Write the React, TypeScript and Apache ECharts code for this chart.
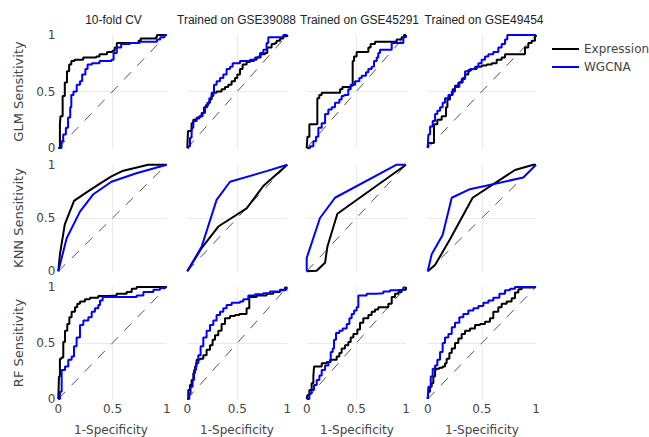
import React, { useEffect, useRef } from 'react';
import * as echarts from 'echarts';

// ---------- labels ----------
const colTitles = ['10-fold CV', 'Trained on GSE39088', 'Trained on GSE45291', 'Trained on GSE49454'];
const rowTitles = ['GLM Sensitivity', 'KNN Sensitivity', 'RF Sensitivity'];
const seriesNames = ['Expression', 'WGCNA'];
const xTitle = '1-Specificity';
const tickInterval = 0.5;
const diagonal = [[0, 0], [1, 1]];

// ---------- GLM ----------
const glmExprCV = [[0,0],[0.015,0.21],[0.02,0.28],[0.04,0.46],[0.06,0.58],[0.08,0.68],[0.1,0.74],[0.12,0.77],[0.15,0.78],[0.23,0.8],[0.35,0.81],[0.38,0.83],[0.45,0.85],[0.5,0.86],[0.52,0.89],[0.54,0.93],[0.74,0.95],[0.76,0.97],[0.9,0.98],[0.91,1],[1,1]];
const glmWgcnaCV = [[0,0],[0.03,0.06],[0.045,0.12],[0.07,0.18],[0.09,0.27],[0.11,0.36],[0.12,0.47],[0.14,0.5],[0.17,0.56],[0.2,0.59],[0.22,0.65],[0.25,0.7],[0.27,0.74],[0.31,0.75],[0.38,0.77],[0.49,0.78],[0.51,0.84],[0.54,0.89],[0.58,0.92],[0.66,0.93],[0.75,0.94],[0.91,0.96],[0.94,0.98],[0.98,1],[1,1]];
const glmExpr39088 = [[0,0],[0.007,0.15],[0.043,0.22],[0.06,0.25],[0.093,0.26],[0.12,0.28],[0.143,0.31],[0.167,0.36],[0.187,0.38],[0.21,0.4],[0.227,0.43],[0.243,0.46],[0.26,0.49],[0.293,0.5],[0.343,0.52],[0.377,0.54],[0.41,0.56],[0.443,0.59],[0.477,0.62],[0.5,0.65],[0.527,0.7],[0.553,0.74],[0.593,0.76],[0.627,0.77],[0.667,0.78],[0.693,0.8],[0.733,0.83],[0.777,0.84],[0.8,0.89],[0.843,0.92],[0.877,0.93],[0.893,0.95],[0.927,0.97],[0.96,0.99],[1,1]];
const glmWgcna39088 = [[0,0],[0.01,0.015],[0.027,0.09],[0.043,0.18],[0.06,0.24],[0.093,0.27],[0.127,0.28],[0.153,0.31],[0.177,0.36],[0.2,0.4],[0.22,0.44],[0.243,0.49],[0.267,0.56],[0.293,0.59],[0.327,0.62],[0.36,0.65],[0.393,0.7],[0.427,0.72],[0.453,0.75],[0.527,0.77],[0.627,0.78],[0.677,0.8],[0.71,0.81],[0.727,0.84],[0.76,0.87],[0.793,0.93],[0.81,0.98],[0.927,0.98],[0.96,1],[1,1]];
const glmExpr45291 = [[0,0],[0.007,0.1],[0.027,0.21],[0.107,0.44],[0.127,0.47],[0.151,0.49],[0.336,0.52],[0.36,0.54],[0.443,0.55],[0.463,0.77],[0.477,0.81],[0.503,0.85],[0.621,0.89],[0.644,0.92],[0.688,0.94],[0.906,0.96],[0.956,0.98],[0.98,1],[1,1]];
const glmWgcna45291 = [[0,0],[0.034,0.015],[0.067,0.06],[0.094,0.1],[0.117,0.18],[0.151,0.22],[0.185,0.3],[0.218,0.34],[0.252,0.36],[0.285,0.4],[0.329,0.43],[0.352,0.46],[0.376,0.47],[0.419,0.52],[0.443,0.56],[0.487,0.59],[0.53,0.62],[0.554,0.64],[0.597,0.67],[0.621,0.7],[0.654,0.72],[0.678,0.77],[0.705,0.8],[0.721,0.84],[0.738,0.87],[0.856,0.93],[0.973,0.98],[1,1]];
const glmExpr49454 = [[0,0],[0.006,0.045],[0.058,0.21],[0.089,0.25],[0.129,0.28],[0.169,0.36],[0.182,0.43],[0.206,0.47],[0.231,0.52],[0.252,0.55],[0.283,0.58],[0.314,0.61],[0.345,0.65],[0.375,0.69],[0.406,0.7],[0.452,0.72],[0.498,0.73],[0.545,0.74],[0.591,0.75],[0.637,0.78],[0.683,0.8],[0.714,0.83],[0.898,0.89],[0.929,0.93],[0.96,0.95],[0.991,0.99],[1,1]];
const glmWgcna49454 = [[0,0],[0.006,0.12],[0.022,0.19],[0.046,0.24],[0.068,0.3],[0.089,0.33],[0.114,0.36],[0.138,0.4],[0.16,0.44],[0.191,0.47],[0.222,0.5],[0.252,0.54],[0.292,0.58],[0.323,0.62],[0.345,0.68],[0.391,0.7],[0.437,0.72],[0.468,0.75],[0.498,0.78],[0.529,0.81],[0.56,0.83],[0.606,0.85],[0.652,0.89],[0.683,0.92],[0.714,0.96],[0.735,1],[1,1]];

// ---------- KNN ----------
const knnExprCV = [[0,0],[0.015,0.16],[0.06,0.44],[0.145,0.66],[0.26,0.74],[0.38,0.82],[0.49,0.89],[0.59,0.94],[0.83,1],[1,1]];
const knnWgcnaCV = [[0,0],[0.077,0.31],[0.2,0.56],[0.32,0.72],[0.49,0.84],[0.72,0.92],[1,1]];
const knnExpr39088 = [[0,0],[0.145,0.22],[0.31,0.42],[0.443,0.5],[0.593,0.59],[0.76,0.8],[1,1]];
const knnWgcna39088 = [[0,0],[0.143,0.23],[0.293,0.67],[0.427,0.84],[0.793,0.94],[1,1]];
const knnExpr45291 = [[0,0],[0.1,0.006],[0.185,0.08],[0.208,0.23],[0.309,0.54],[1,1]];
const knnWgcna45291 = [[0,0],[0,0.125],[0.134,0.5],[0.285,0.69],[0.906,1],[1,1]];
const knnExpr49454 = [[0,0],[0.068,0.06],[0.206,0.3],[0.415,0.69],[0.806,0.95],[0.975,1],[1,1]];
const knnWgcna49454 = [[0,0],[0.037,0.16],[0.138,0.34],[0.222,0.69],[0.39,0.77],[0.883,0.88],[1,1]];

// ---------- RF ----------
const rfExprCV = [[0,0],[0.006,0.2],[0.015,0.36],[0.03,0.37],[0.046,0.51],[0.062,0.61],[0.083,0.67],[0.102,0.73],[0.123,0.78],[0.154,0.82],[0.175,0.85],[0.2,0.87],[0.246,0.89],[0.292,0.905],[0.369,0.92],[0.462,0.925],[0.538,0.94],[0.631,0.955],[0.677,0.985],[0.723,1],[1,1]];
const rfWgcnaCV = [[0,0],[0.015,0.065],[0.031,0.26],[0.062,0.29],[0.092,0.35],[0.123,0.38],[0.145,0.47],[0.169,0.55],[0.2,0.66],[0.231,0.7],[0.277,0.73],[0.308,0.78],[0.338,0.81],[0.369,0.84],[0.385,0.88],[0.409,0.91],[0.692,0.91],[0.723,0.925],[0.785,0.955],[0.877,0.975],[0.938,0.99],[0.985,1],[1,1]];
const rfExpr39088 = [[0,0],[0.01,0.08],[0.027,0.125],[0.043,0.17],[0.06,0.23],[0.077,0.29],[0.093,0.35],[0.127,0.36],[0.16,0.39],[0.193,0.44],[0.227,0.48],[0.253,0.53],[0.277,0.57],[0.31,0.61],[0.343,0.67],[0.377,0.72],[0.427,0.74],[0.477,0.75],[0.52,0.76],[0.593,0.81],[0.62,0.91],[0.693,0.925],[0.793,0.94],[0.86,0.955],[0.927,0.97],[0.977,0.995],[1,1]];
const rfWgcna39088 = [[0,0],[0.02,0.05],[0.033,0.11],[0.053,0.17],[0.067,0.26],[0.087,0.32],[0.11,0.39],[0.133,0.47],[0.16,0.55],[0.193,0.61],[0.227,0.66],[0.26,0.7],[0.293,0.75],[0.327,0.78],[0.36,0.81],[0.393,0.84],[0.443,0.86],[0.527,0.87],[0.56,0.89],[0.61,0.925],[0.677,0.935],[0.76,0.945],[0.827,0.96],[0.927,0.975],[0.993,1],[1,1]];
const rfExpr45291 = [[0,0],[0.007,0.035],[0.027,0.08],[0.05,0.14],[0.067,0.2],[0.074,0.29],[0.151,0.32],[0.201,0.33],[0.235,0.35],[0.302,0.38],[0.329,0.41],[0.352,0.45],[0.386,0.48],[0.419,0.51],[0.443,0.55],[0.47,0.58],[0.51,0.62],[0.537,0.68],[0.57,0.72],[0.621,0.75],[0.654,0.78],[0.688,0.8],[0.721,0.82],[0.822,0.85],[0.856,0.91],[0.889,0.94],[0.923,0.955],[0.956,0.975],[1,1]];
const rfWgcna45291 = [[0,0],[0.027,0.05],[0.05,0.08],[0.074,0.125],[0.101,0.17],[0.128,0.21],[0.151,0.26],[0.185,0.3],[0.218,0.33],[0.242,0.42],[0.262,0.45],[0.275,0.53],[0.295,0.59],[0.329,0.61],[0.362,0.63],[0.403,0.67],[0.43,0.72],[0.453,0.76],[0.477,0.79],[0.503,0.82],[0.52,0.925],[0.604,0.94],[0.705,0.945],[0.772,0.96],[0.839,0.97],[0.906,0.975],[0.973,0.995],[1,1]];
const rfExpr49454 = [[0,0],[0.006,0.065],[0.022,0.11],[0.037,0.14],[0.052,0.2],[0.068,0.26],[0.077,0.27],[0.108,0.28],[0.138,0.29],[0.16,0.32],[0.175,0.36],[0.2,0.41],[0.222,0.45],[0.252,0.5],[0.283,0.54],[0.314,0.58],[0.345,0.61],[0.391,0.63],[0.437,0.66],[0.483,0.67],[0.529,0.69],[0.575,0.72],[0.606,0.78],[0.652,0.82],[0.683,0.85],[0.729,0.87],[0.775,0.9],[0.806,0.95],[0.837,0.98],[0.868,0.995],[0.975,1],[1,1]];
const rfWgcna49454 = [[0,0],[0.006,0.11],[0.028,0.2],[0.046,0.27],[0.068,0.3],[0.089,0.35],[0.114,0.42],[0.138,0.5],[0.16,0.55],[0.191,0.58],[0.222,0.64],[0.252,0.68],[0.292,0.73],[0.329,0.76],[0.375,0.79],[0.422,0.81],[0.468,0.83],[0.514,0.86],[0.56,0.88],[0.606,0.905],[0.662,0.94],[0.714,0.97],[0.76,0.985],[0.806,1],[1,1]];

const expressionData = [
  [glmExprCV, glmExpr39088, glmExpr45291, glmExpr49454],
  [knnExprCV, knnExpr39088, knnExpr45291, knnExpr49454],
  [rfExprCV, rfExpr39088, rfExpr45291, rfExpr49454],
];
const wgcnaData = [
  [glmWgcnaCV, glmWgcna39088, glmWgcna45291, glmWgcna49454],
  [knnWgcnaCV, knnWgcna39088, knnWgcna45291, knnWgcna49454],
  [rfWgcnaCV, rfWgcna39088, rfWgcna45291, rfWgcna49454],
];
const rowIsStep = [true, false, true];

// ---------- layout ----------
const COLS = [
  { left: 58.3, width: 108.4 },
  { left: 187.3, width: 100 },
  { left: 306.7, width: 99.3 },
  { left: 427.7, width: 108.3 },
];
const ROWS = [
  { top: 35, height: 113 },
  { top: 164.7, height: 106.6 },
  { top: 287, height: 112 },
];
const TITLE_X = [113.5, 236.5, 359.5, 484];
const XTITLE_X = [111, 237, 357, 482];
const COLORS = ['#000000', '#0000ff'];
const AXIS_FONT = '"DejaVu Sans", Verdana, sans-serif';
const TITLE_FONT = '"Liberation Sans", Arial, sans-serif';

function buildOption() {
  const grid: any[] = [];
  const xAxis: any[] = [];
  const yAxis: any[] = [];
  const series: any[] = [];
  const split = {
    show: true,
    lineStyle: { color: ['rgba(0,0,0,0)', '#ebebeb', 'rgba(0,0,0,0)'], width: 1 },
  };
  for (let r = 0; r < 3; r++) {
    for (let c = 0; c < 4; c++) {
      const idx = r * 4 + c;
      grid.push({ left: COLS[c].left, top: ROWS[r].top, width: COLS[c].width, height: ROWS[r].height });
      xAxis.push({
        type: 'value', gridIndex: idx, min: 0, max: 1, interval: tickInterval,
        axisLine: { show: false }, axisTick: { show: false },
        axisLabel: { show: r === 2, margin: 4, color: '#444', fontSize: 12, fontFamily: AXIS_FONT, showMinLabel: true, showMaxLabel: true },
        splitLine: split,
      });
      yAxis.push({
        type: 'value', gridIndex: idx, min: 0, max: 1, interval: tickInterval,
        axisLine: { show: false }, axisTick: { show: false },
        axisLabel: { show: c === 0, margin: 3, color: '#444', fontSize: 12, fontFamily: AXIS_FONT, showMinLabel: true, showMaxLabel: true },
        splitLine: split,
      });
      series.push({
        type: 'line', name: 'diag', xAxisIndex: idx, yAxisIndex: idx, data: diagonal,
        symbol: 'none', silent: true, z: 1,
        lineStyle: { color: '#555', width: 1, type: [10, 9] },
      });
      [expressionData, wgcnaData].forEach((ds, k) => {
        series.push({
          type: 'line', name: seriesNames[k], xAxisIndex: idx, yAxisIndex: idx,
          data: ds[r][c], step: rowIsStep[r] ? 'end' : false,
          symbol: 'none', clip: false, z: 2 + k,
          lineStyle: { color: COLORS[k], width: 2 },
          itemStyle: { color: COLORS[k] },
        });
      });
    }
  }

  const graphic: any[] = [];
  colTitles.forEach((t, c) => {
    graphic.push({
      type: 'text', x: TITLE_X[c], y: 20,
      style: { text: t, fill: '#222', font: `12px ${TITLE_FONT}`, align: 'center', verticalAlign: 'middle', textAlign: 'center', textVerticalAlign: 'middle' },
    });
    graphic.push({
      type: 'text', x: XTITLE_X[c], y: 430,
      style: { text: xTitle, fill: '#444', font: `12px ${AXIS_FONT}`, align: 'center', verticalAlign: 'middle', textAlign: 'center', textVerticalAlign: 'middle' },
    });
  });
  rowTitles.forEach((t, r) => {
    graphic.push({
      type: 'text', x: 18, y: ROWS[r].top + ROWS[r].height / 2, rotation: Math.PI / 2,
      style: { text: t, fill: '#444', font: `13px ${AXIS_FONT}`, align: 'center', verticalAlign: 'middle', textAlign: 'center', textVerticalAlign: 'middle' },
    });
  });

  return {
    animation: false,
    backgroundColor: '#ffffff',
    grid, xAxis, yAxis, series, graphic,
    legend: {
      data: seriesNames.map((n) => ({ name: n, icon: 'rect' })),
      orient: 'vertical', left: 552, top: 42,
      itemWidth: 27, itemHeight: 2, itemGap: 4, padding: 0, selectedMode: false,
      textStyle: { color: '#444', fontSize: 12, fontFamily: AXIS_FONT, lineHeight: 14 },
    },
  };
}

export default function App() {
  const ref = useRef<HTMLDivElement>(null);
  useEffect(() => {
    if (!ref.current) return;
    const chart = echarts.init(ref.current, undefined, { renderer: 'svg' });
    chart.setOption(buildOption() as any);
    return () => chart.dispose();
  }, []);
  return (
    <div
      ref={ref}
      style={{ position: 'absolute', left: 0, top: 0, width: 649, height: 437, background: '#fff' }}
    />
  );
}
